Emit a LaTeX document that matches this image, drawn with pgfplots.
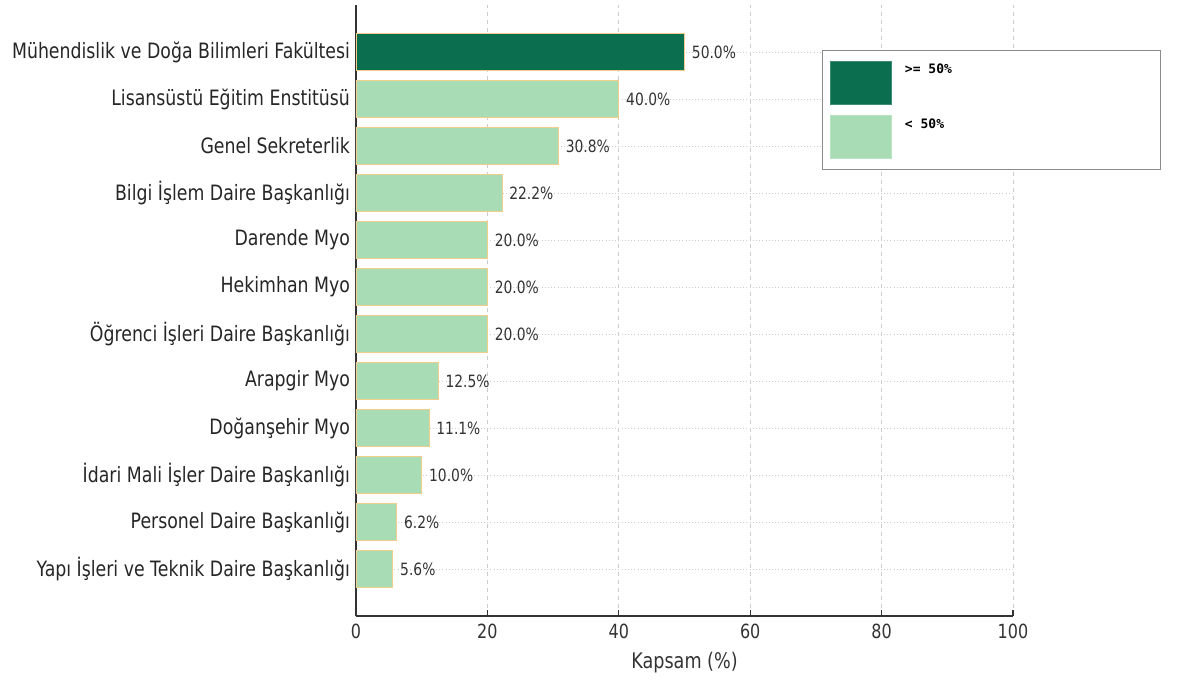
\documentclass[border=0pt]{standalone}
\usepackage{fontspec}
\setmainfont{DejaVu Sans}
\setmonofont{DejaVu Sans Mono}
\usepackage{pgfplots}
\pgfplotsset{compat=1.18}
\definecolor{darkbar}{HTML}{0B6E4F}
\definecolor{lightbar}{HTML}{A8DCB4}
\definecolor{baredge}{HTML}{F2CD8C}
\definecolor{txt}{HTML}{333333}
\pgfplotsset{
  sqlegend/.style={legend image code/.code={\draw[##1] (0pt,6.4pt) rectangle (45.75pt,-25.85pt);}},
}

\begin{document}
\begin{tikzpicture}
\begin{axis}[
  name=ax,
  scale only axis,
  width=492.75pt, height=458.25pt,
  xmin=0, xmax=100, ymin=-1, ymax=12,
  axis x line*=bottom, axis y line*=left,
  axis line style={draw=black!80, line width=1pt},
  xtick={0,20,...,100},
  ytick={0,...,11},
  yticklabels={Yapı İşleri ve Teknik Daire Başkanlığı, Personel Daire Başkanlığı, İdari Mali İşler Daire Başkanlığı, Doğanşehir Myo, Arapgir Myo, Öğrenci İşleri Daire Başkanlığı, Hekimhan Myo, Darende Myo, Bilgi İşlem Daire Başkanlığı, Genel Sekreterlik, Lisansüstü Eğitim Enstitüsü, Mühendislik ve Doğa Bilimleri Fakültesi},
  tick align=inside,
  major tick length=4.5pt,
  tick style={black!80, line width=0.8pt},
  ytick style={draw=none},
  xmajorgrids, ymajorgrids,
  x grid style={gray!40, dashed, line width=0.5pt},
  y grid style={gray!40, dotted, line width=0.6pt},
  /pgf/number format/assume math mode=true,
  xticklabel style={font=\fontsize{12}{14}\selectfont, text=txt, yscale=1.22, yshift=-1.5pt},
  yticklabel style={font=\fontsize{13}{15}\selectfont, text=black!85, yscale=1.22, xshift=3.5pt},
  xlabel={Kapsam (\%)},
  xlabel style={font=\fontsize{13.2}{15}\selectfont, text=txt, yscale=1.22, yshift=-1.5pt},
  xbar, bar width=0.8, bar shift=0pt,
  nodes near coords={\pgfmathprintnumber[fixed,fixed zerofill,precision=1]{\pgfplotspointmeta}\%},
  nodes near coords style={font=\fontsize{10.4}{12}\selectfont, text=txt, anchor=west, yscale=1.22, xshift=2pt},
  legend cell align=left,
  legend style={at={(0.709,0.926)}, anchor=north west, draw=gray!90, line width=0.75pt,
    fill=white, inner xsep=5.5pt, inner ysep=7.5pt, row sep=8pt,
    font=\ttfamily\bfseries\fontsize{9.75}{11}\selectfont},
]
\addplot[fill=darkbar, draw=baredge, line width=0.5pt, forget plot] coordinates {(50.0,11)};
\addplot[fill=lightbar, draw=baredge, line width=0.5pt, forget plot] coordinates {
  (40.0,10) (30.8,9) (22.2,8) (20.0,7) (20.0,6) (20.0,5)
  (12.5,4) (11.1,3) (10.0,2) (6.2,1) (5.6,0)
};
\addlegendimage{sqlegend, fill=darkbar, draw=darkbar!80!white}
\addlegendentry{\makebox[192pt][l]{\hspace{8pt}>= 50\%}}
\addlegendimage{sqlegend, fill=lightbar, draw=lightbar!80!white}
\addlegendentry{\makebox[192pt][l]{\hspace{8pt}< 50\%}}
\end{axis}
\path[use as bounding box] ([xshift=-267pt,yshift=-48.75pt]ax.south west) rectangle ([xshift=634.5pt,yshift=462pt]ax.south west);
\end{tikzpicture}
\end{document}
